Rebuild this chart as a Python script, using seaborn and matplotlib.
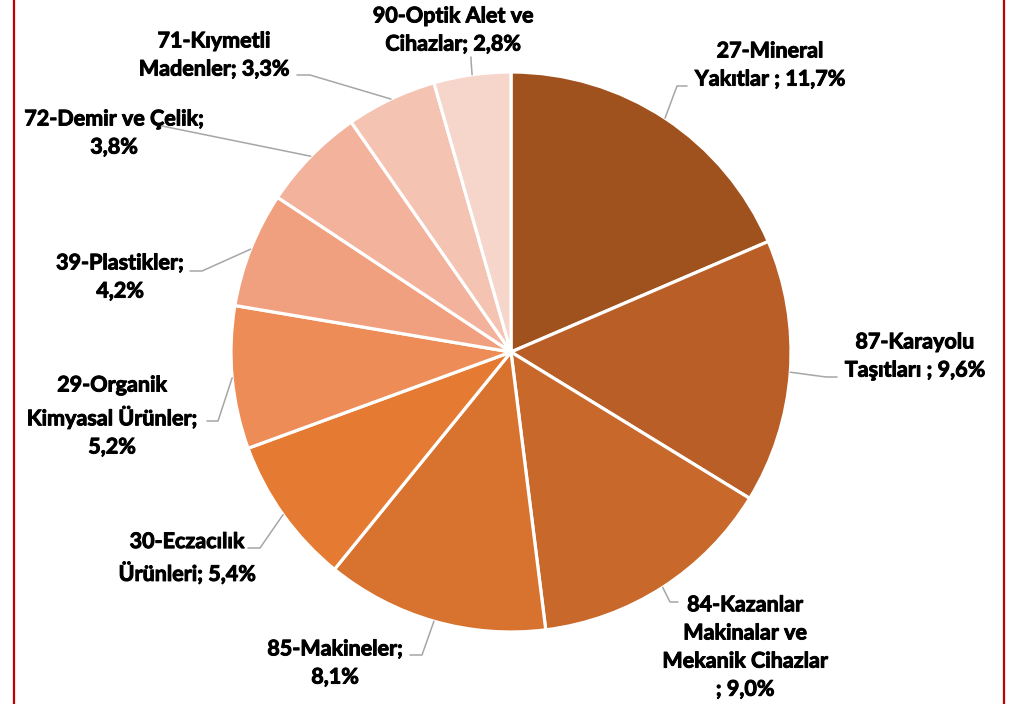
import numpy as np
import matplotlib
matplotlib.use("Agg")
import matplotlib.pyplot as plt
import matplotlib.patheffects as pe
import seaborn as sns

sns.set_style("white")
plt.rcParams['font.family'] = ['Lato', 'DejaVu Sans']

# ============================================
# DATA (share of exports, %)
# ============================================
shares = [11.7, 9.6, 9.0, 8.1, 5.4, 5.2, 4.2, 3.8, 3.3, 2.8]
label_templates = [
    "27-Mineral\nYakıtlar ; {}",
    "87-Karayolu\nTaşıtları ; {}",
    "84-Kazanlar\nMakinalar ve\nMekanik Cihazlar\n; {}",
    "85-Makineler;\n{}",
    "30-Eczacılık\nÜrünleri; {}",
    "29-Organik\nKimyasal Ürünler;\n{}",
    "39-Plastikler;\n{}",
    "72-Demir ve Çelik;\n{}",
    "71-Kıymetli\nMadenler; {}",
    "90-Optik Alet ve\nCihazlar; {}",
]
colors = ["#A0521E", "#B85E26", "#C8692B", "#D8732F", "#E57B33",
          "#EE8C57", "#F0A07E", "#F3B29B", "#F4C3B2", "#F6D5CB"]

# layout (pixel coords, y measured from top)
W, H = 1018, 704
cx, cy, R = 511, 352, 280
label_pos = [(770, 65), (915, 356), (745, 647), (335, 663), (187, 558),
             (112, 416), (120, 277), (114, 133), (214, 55), (453, 30)]
line_start = [(687, 86), (837, 377), (678, 602), (410, 655), (248, 548),
              (207, 421), (190, 271), (160, 126), (297, 75), (471, 57)]
line_elbow = [(677, 86), (826, 377), (670, 602), (422, 655), (260, 548),
              (218, 421), (202, 271), (162, 126), (310, 75), (471, 60)]

fig = plt.figure(figsize=(W / 100, H / 100), dpi=100)
ax = fig.add_axes([0, 0, 1, 1])

ax.pie(shares, colors=colors, startangle=90, counterclock=False,
       radius=R, center=(cx, H - cy),
       wedgeprops=dict(edgecolor='white', linewidth=2.3))
ax.set_xlim(0, W)
ax.set_ylim(0, H)
ax.set_aspect('equal')
ax.axis('off')

# mid-angle of each wedge (clockwise from top)
cum = np.cumsum([0] + shares)
total = cum[-1]
mids = (cum[:-1] + cum[1:]) / 2 / total * 2 * np.pi

# thicker strokes to get closer to the heavy bold of the original
heavy = [pe.withStroke(linewidth=0.7, foreground='black')]

for i, tpl in enumerate(label_templates):
    txt = tpl.format(f"{shares[i]:.1f}%".replace('.', ','))
    lx, ly = label_pos[i]
    ax.text(lx, H - ly, txt, ha='center', va='center', fontsize=15.5,
            fontweight='bold', color='black', linespacing=1.42,
            path_effects=heavy)
    ax_x = cx + R * np.sin(mids[i])
    ax_y = (H - cy) + R * np.cos(mids[i])
    xs = [line_start[i][0], line_elbow[i][0], ax_x]
    ys = [H - line_start[i][1], H - line_elbow[i][1], ax_y]
    ax.plot(xs, ys, color='#A6A6A6', lw=1.1)

# red frame lines at the sides
ax.axvline(14, color='#C00000', lw=1.6)
ax.axvline(1004, color='#C00000', lw=1.6)

plt.savefig('out.png', dpi=100)
